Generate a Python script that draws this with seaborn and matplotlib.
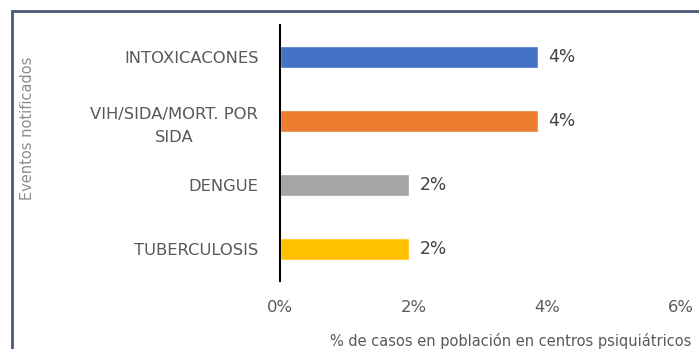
import matplotlib
matplotlib.use("Agg")
import matplotlib.pyplot as plt
import seaborn as sns
import pandas as pd
from matplotlib.patches import Rectangle

# Notified events and their share of cases (%)
eventos = ["INTOXICACONES", "VIH/SIDA/MORT. POR\nSIDA", "DENGUE", "TUBERCULOSIS"]
porcentajes = [3.86, 3.86, 1.93, 1.93]
colores = ["#4472C4", "#ED7D31", "#A5A5A5", "#FFC000"]
ticks_x = [0, 2, 4, 6]
tick_labels = ["0%", "2%", "4%", "6%"]

sns.set_theme(style="white")
plt.rcParams["font.family"] = ["DejaVu Sans"]

df = pd.DataFrame({"evento": eventos, "pct": porcentajes})

W, H = 699, 349
fig = plt.figure(figsize=(W / 100, H / 100), dpi=100)
ax = fig.add_axes([280 / W, (H - 281) / H, 400.5 / W, 256 / H])

sns.barplot(data=df, y="evento", x="pct", hue="evento", palette=colores,
            orient="h", width=0.34, legend=False, ax=ax, saturation=1)

ax.set_xlim(0, 6)
ax.set_ylim(3.5, -0.5)
ax.set_xticks(ticks_x)
ax.set_xticklabels(tick_labels)
ax.set_yticks(range(len(eventos)))
ax.set_yticklabels(eventos, multialignment="center", linespacing=1.65,
                   fontsize=11.8, color="#595959")
ax.tick_params(axis="x", length=0, pad=14, labelsize=11.8, labelcolor="#595959")
ax.tick_params(axis="y", length=0, pad=15.5)

for s in ["top", "right", "bottom"]:
    ax.spines[s].set_visible(False)
ax.spines["left"].set_color("black")
ax.spines["left"].set_linewidth(1.5)
ax.set_xlabel("")
ax.set_ylabel("")

for i, v in enumerate(porcentajes):
    ax.text(v + 0.16, i, f"{v:.0f}%", va="center", ha="left",
            fontsize=12.3, color="#404040")

fig.text(27 / W, 1 - 128 / H, "Eventos notificados", rotation=90,
         ha="center", va="center", fontsize=10.5, color="#8C8C8C")
fig.text(330 / W, 1 - 341 / H, "% de casos en población en centros psiquiátricos",
         ha="left", va="center", fontsize=10.5, color="#595959")

# chart area border
fig.patches.append(Rectangle((11.5 / W, -0.1), 1.2, (H - 11.5) / H + 0.1,
                             transform=fig.transFigure, fill=False,
                             edgecolor="#4A5A78", linewidth=2))

fig.savefig("out.png", dpi=100)
